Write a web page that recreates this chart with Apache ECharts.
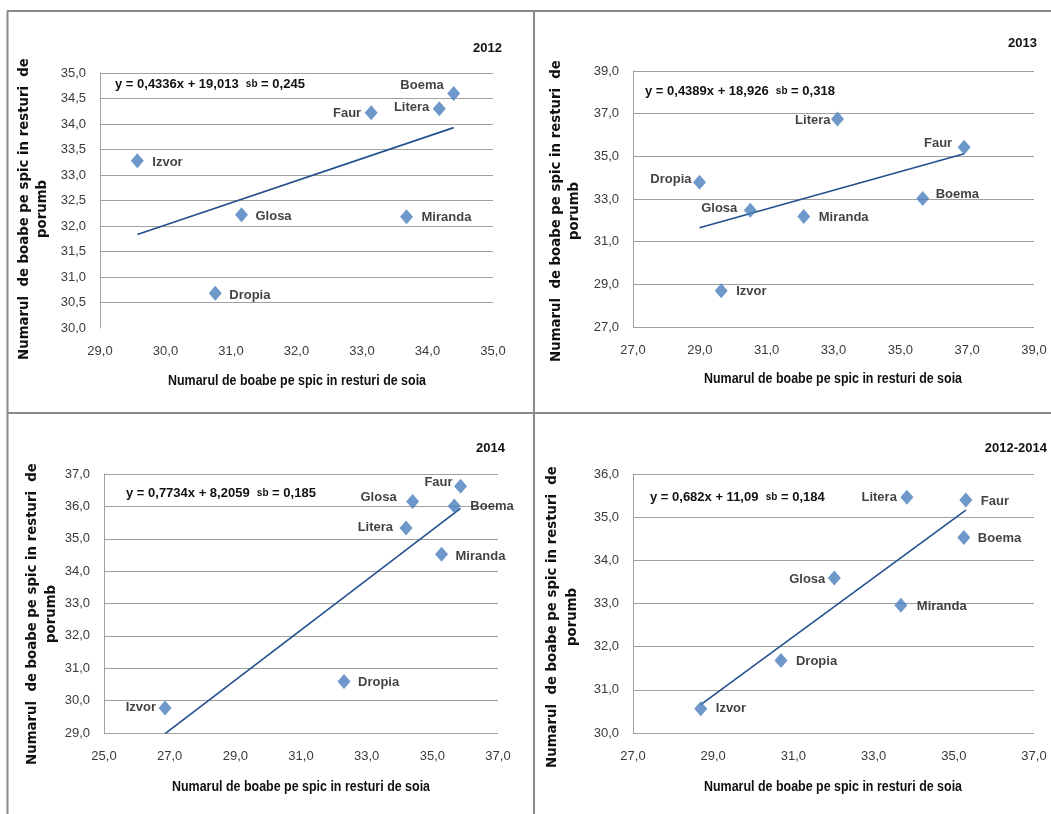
<!DOCTYPE html>
<html>
<head>
<meta charset="utf-8">
<script src="https://cdn.jsdelivr.net/npm/echarts@6/dist/echarts.min.js"></script>
<style>
  html, body { margin: 0; padding: 0; background: #ffffff; }
  #chart { width: 1051px; height: 814px; }
</style>
</head>
<body>
<div id="chart"></div>
<script>
// Varieties, in the same order in every panel
const varieties = ['Izvor', 'Glosa', 'Dropia', 'Faur', 'Litera', 'Boema', 'Miranda'];

// Grains per spike after soybean (x) and after maize (y)
const soia2012   = [29.57, 31.16, 30.76, 33.14, 34.18, 34.40, 33.68];
const porumb2012 = [33.28, 32.22, 30.68, 34.22, 34.30, 34.60, 32.18];

const soia2013   = [29.64, 30.51, 28.99, 36.91, 33.12, 35.67, 32.11];
const porumb2013 = [28.70, 32.47, 33.79, 35.42, 36.75, 33.02, 32.18];

const soia2014   = [26.86, 34.40, 32.31, 35.86, 34.20, 35.67, 35.28];
const porumb2014 = [29.77, 36.15, 30.59, 36.62, 35.33, 36.01, 34.52];

const soiaMean   = [28.69, 32.02, 30.69, 35.30, 33.83, 35.25, 33.68];
const porumbMean = [30.56, 33.59, 31.68, 35.40, 35.46, 34.53, 32.96];

// Regression y = a·x + b and standard error of the slope
const periods   = ['2012', '2013', '2014', '2012-2014'];
const slopes    = [0.4336, 0.4389, 0.7734, 0.682];
const intercepts = [19.013, 18.926, 8.2059, 11.09];
const slopeErr  = [0.245, 0.318, 0.185, 0.184];

// Axis ranges: [min, max, step]
const xRanges = [[29, 35, 1], [27, 39, 2], [25, 37, 2], [27, 37, 2]];
const yRanges = [[30, 35, 0.5], [27, 39, 2], [29, 37, 1], [30, 36, 1]];

const xTitle = 'Numarul de boabe pe spic in resturi de soia';
const yTitle1 = 'Numarul  de boabe pe spic in resturi  de';
const yTitle2 = 'porumb';

// ---- layout and styling ----
const xs = [soia2012, soia2013, soia2014, soiaMean];
const ys = [porumb2012, porumb2013, porumb2014, porumbMean];

const grids = [
  { left: 100, top: 73, width: 393, height: 255 },
  { left: 633, top: 71, width: 401, height: 256 },
  { left: 104, top: 474, width: 394, height: 259 },
  { left: 633, top: 474, width: 401, height: 259 }
];

// label side, gap from marker centre, vertical shift
const labelPlace = [
  { Izvor: ['right', 15, 2], Glosa: ['right', 14, 2], Dropia: ['right', 14, 2], Miranda: ['right', 15, 1],
    Faur: ['left', 10, 1], Litera: ['left', 10, -1], Boema: ['left', 10, -8] },
  { Litera: ['left', 7, 1], Faur: ['left', 12, -4], Dropia: ['left', 8, -3], Glosa: ['left', 13, -2],
    Miranda: ['right', 15, 1], Boema: ['right', 13, -4], Izvor: ['right', 15, 1] },
  { Faur: ['left', 8, -4], Glosa: ['left', 16, -4], Boema: ['right', 16, 0], Litera: ['left', 13, -1],
    Miranda: ['right', 14, 2], Dropia: ['right', 14, 1], Izvor: ['left', 9, -1] },
  { Litera: ['left', 10, 0], Faur: ['right', 15, 2], Boema: ['right', 14, 1], Glosa: ['left', 9, 1],
    Miranda: ['right', 16, 1], Dropia: ['right', 15, 1], Izvor: ['right', 15, 0] }
];

const eqPos = [[115, 84], [645, 91], [126, 493], [650, 497]];
const yearPos = [[502, 48], [1037, 43], [505, 448], [1047, 448]];
const yTitlePos = [[25, 43, 209], [557, 575, 211], [33, 52, 614], [553, 573, 617]];
const xTitlePos = [[297, 381], [833, 379], [301, 787], [833, 787]];

const SANS = '"Liberation Sans", Arial, sans-serif';
const WIDE = '"DejaVu Sans", sans-serif';
const MARKER = '#4a7ebb';
const TREND = '#23508e';
const GRID = '#a0a0a0';

const comma = v => String(v).replace('.', ',');
const fmt1 = v => (Math.round(v * 10) / 10).toFixed(1).replace('.', ',');

const chart = echarts.init(document.getElementById('chart'), null, { renderer: 'canvas' });

const xAxis = [], yAxis = [], series = [], graphic = [];

for (let p = 0; p < 4; p++) {
  const [x0, x1, xs0] = xRanges[p];
  const [y0, y1, ys0] = yRanges[p];

  // axes are measured from the range start so ticks land on every step
  xAxis.push({
    type: 'value', gridIndex: p, min: 0, max: x1 - x0, interval: xs0,
    axisLine: { show: false }, axisTick: { show: false },
    splitLine: { show: false },
    axisLabel: { margin: 17, color: '#3a3a3a', fontFamily: SANS, fontSize: 13,
      formatter: v => fmt1(v + x0) }
  });
  yAxis.push({
    type: 'value', gridIndex: p, min: 0, max: y1 - y0, interval: ys0,
    axisLine: { show: true, lineStyle: { color: GRID, width: 1 } },
    axisTick: { show: false },
    splitLine: { show: true, showMinLine: p !== 0, lineStyle: { color: GRID, width: 1 } },
    axisLabel: { margin: 14, color: '#3a3a3a', fontFamily: SANS, fontSize: 13,
      formatter: v => fmt1(v + y0) }
  });

  const pts = varieties.map((name, i) => {
    const pl = labelPlace[p][name];
    return {
      name: name,
      value: [xs[p][i] - x0, ys[p][i] - y0],
      label: { position: pl[0], distance: pl[1] - 6.5, offset: [0, pl[2]] }
    };
  });

  series.push({
    type: 'scatter', xAxisIndex: p, yAxisIndex: p,
    symbol: 'diamond', symbolSize: [13, 15],
    itemStyle: { color: MARKER },
    label: { show: true, formatter: '{b}', color: '#111', fontFamily: SANS,
      fontWeight: 'bold', fontSize: 13 },
    data: pts, z: 3
  });

  // fitted line across the observed range of x
  const xmin = Math.min(...xs[p]), xmax = Math.max(...xs[p]);
  series.push({
    type: 'line', xAxisIndex: p, yAxisIndex: p, symbol: 'none', silent: true,
    lineStyle: { color: TREND, width: 1.6 },
    data: [[xmin - x0, slopes[p] * xmin + intercepts[p] - y0],
           [xmax - x0, slopes[p] * xmax + intercepts[p] - y0]],
    z: 2
  });

  // equation
  graphic.push({
    type: 'text', x: eqPos[p][0], y: eqPos[p][1],
    style: {
      text: '{a|y = ' + comma(slopes[p]) + 'x + ' + comma(intercepts[p]) + '  }{s|sb}{a| = ' + comma(slopeErr[p]) + '}',
      textVerticalAlign: 'middle',
      rich: {
        a: { fontFamily: SANS, fontWeight: 'bold', fontSize: 13, fill: '#111' },
        s: { fontFamily: SANS, fontWeight: 'bold', fontSize: 10, fill: '#111' }
      }
    }
  });

  // period label
  graphic.push({
    type: 'text', x: yearPos[p][0], y: yearPos[p][1],
    style: { text: periods[p], textAlign: 'right', textVerticalAlign: 'middle',
      font: 'bold 13px ' + SANS, fill: '#111' }
  });

  // axis titles
  graphic.push({
    type: 'text', x: xTitlePos[p][0], y: xTitlePos[p][1], scaleX: 0.83,
    style: { text: xTitle, textAlign: 'center', textVerticalAlign: 'middle',
      font: 'bold 15px ' + SANS, fill: '#111' }
  });
  graphic.push({
    type: 'text', x: yTitlePos[p][0], y: yTitlePos[p][2], rotation: Math.PI / 2,
    style: { text: yTitle1, textAlign: 'center', textVerticalAlign: 'middle',
      font: 'bold 13.3px ' + WIDE, fill: '#111' }
  });
  graphic.push({
    type: 'text', x: yTitlePos[p][1], y: yTitlePos[p][2], rotation: Math.PI / 2,
    style: { text: yTitle2, textAlign: 'center', textVerticalAlign: 'middle',
      font: 'bold 13.3px ' + WIDE, fill: '#111' }
  });
}

// panel frame
const FRAME = { stroke: '#8a8a8a', lineWidth: 2 };
graphic.push(
  { type: 'line', shape: { x1: 7, y1: 11, x2: 1051, y2: 11 }, style: FRAME },
  { type: 'line', shape: { x1: 7.5, y1: 11, x2: 7.5, y2: 814 }, style: FRAME },
  { type: 'line', shape: { x1: 534, y1: 11, x2: 534, y2: 814 }, style: FRAME },
  { type: 'line', shape: { x1: 7, y1: 413, x2: 1051, y2: 413 }, style: FRAME }
);

chart.setOption({
  animation: false,
  backgroundColor: '#ffffff',
  grid: grids,
  xAxis: xAxis,
  yAxis: yAxis,
  series: series,
  graphic: graphic
});
</script>
</body>
</html>
